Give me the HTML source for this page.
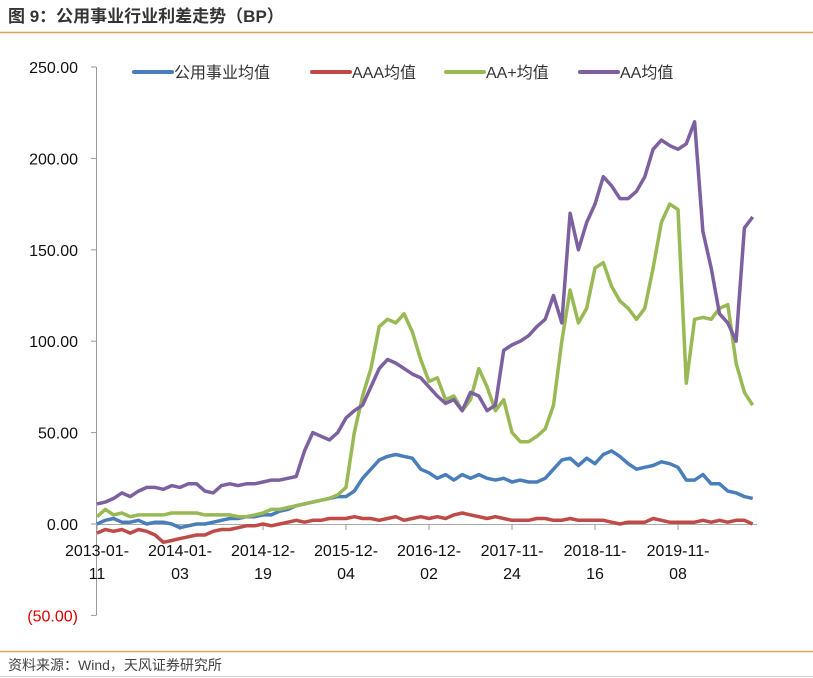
<!DOCTYPE html>
<html><head><meta charset="utf-8"><style>
body{margin:0;background:#fff;width:813px;height:678px;overflow:hidden;font-family:"Liberation Sans","Noto Sans CJK SC",sans-serif}
</style></head><body>
<svg width="813" height="678" style="position:absolute;left:0;top:0">
<text x="8" y="22" font-size="17" font-weight="bold" fill="#333" font-family="Liberation Sans,Noto Sans CJK SC,sans-serif">图 9：公用事业行业利差走势（BP）</text>
<line x1="0" y1="32.5" x2="813" y2="32.5" stroke="#d9a35a" stroke-width="1.5"/>
<line x1="0" y1="651.5" x2="813" y2="651.5" stroke="#d9a35a" stroke-width="1.5"/>
<line x1="0" y1="676.5" x2="813" y2="676.5" stroke="#ccc"/>
<text x="8" y="670" font-size="14" fill="#444" font-family="Liberation Sans,Noto Sans CJK SC,sans-serif">资料来源：Wind，天风证券研究所</text>
<g id="axes"></g>
<g id="series"></g>
<g id="legend"></g>
</svg>
<script>
const yTicks=[250,200,150,100,50,0,-50];
const yTickLabels=["250.00","200.00","150.00","100.00","50.00","0.00","(50.00)"];
const xTickIdx=[0,10,20,30,40,50,60,70];
const xTickLabels=[["2013-01-","11"],["2014-01-","03"],["2014-12-","19"],["2015-12-","04"],["2016-12-","02"],["2017-11-","24"],["2018-11-","16"],["2019-11-","08"]];
const seriesNames=["公用事业均值","AAA均值","AA+均值","AA均值"];
const utilVals=[0,2,3,1,1,2,0,1,1,0,-2,-1,0,0,1,2,3,3,4,4,5,5,7,8,10,11,12,13,14,15,15,18,25,30,35,37,38,37,36,30,28,25,27,24,27,25,27,25,24,25,23,24,23,23,25,30,35,36,32,36,33,38,40,37,33,30,31,32,34,33,31,24,24,27,22,22,18,17,15,14];
const aaaVals=[-5,-3,-4,-3,-5,-3,-4,-6,-10,-9,-8,-7,-6,-6,-4,-3,-3,-2,-1,-1,0,-1,0,1,2,1,2,2,3,3,3,4,3,3,2,3,4,2,3,4,3,4,3,5,6,5,4,3,4,3,2,2,2,3,3,2,2,3,2,2,2,2,1,0,1,1,1,3,2,1,1,1,1,2,1,2,1,2,2,0];
const aapVals=[4,8,5,6,4,5,5,5,5,6,6,6,6,5,5,5,5,4,4,5,6,8,8,9,10,11,12,13,14,16,20,50,70,85,108,112,110,115,105,90,78,80,68,70,62,68,85,75,62,68,50,45,45,48,52,65,100,128,110,118,140,143,130,122,118,112,118,140,165,175,172,77,112,113,112,118,120,88,72,65];
const aaVals=[11,12,14,17,15,18,20,20,19,21,20,22,22,18,17,21,22,21,22,22,23,24,24,25,26,40,50,48,46,50,58,62,65,75,85,90,88,85,82,80,75,70,66,68,62,72,70,62,65,95,98,100,103,108,112,125,110,170,150,165,175,190,185,178,178,182,190,205,210,207,205,208,220,160,140,115,110,100,162,168];
const colors=["#4a7ebb","#be4b48","#98b954","#7d60a0"];
const NS="http://www.w3.org/2000/svg";
const X=i=>97+8.3*i;
const Y=v=>524-v*(457/250);
function mk(tag,attrs,parent){const e=document.createElementNS(NS,tag);for(const k in attrs)e.setAttribute(k,attrs[k]);parent.appendChild(e);return e;}
const ax=document.getElementById('axes');
let yl=mk('line',{x1:96.5,y1:Y(250),x2:96.5,y2:Y(-50),stroke:'#999'},ax);


yTicks.forEach((v,k)=>{
 const t=mk('line',{x1:91,y1:Y(v),x2:96,y2:Y(v),stroke:'#999'},ax);
 
 
 const tx=mk('text',{x:78,y:Y(v)+6,'font-size':16,'text-anchor':'end',fill:v<0?'#d00':'#111'},ax);
 tx.textContent=yTickLabels[k];
 
 
});
let xl=mk('line',{x1:96,y1:Y(0)+0.5,x2:757,y2:Y(0)+0.5,stroke:'#aaa'},ax);


xTickIdx.forEach((ix,k)=>{
 const t=mk('line',{x1:X(ix),y1:Y(0),x2:X(ix),y2:Y(0)+6,stroke:'#999'},ax);
 
 
 xTickLabels[k].forEach((s,j)=>{
  const tx=mk('text',{x:X(ix),y:556+j*23,'font-size':16,'text-anchor':'middle',fill:'#111'},ax);
  tx.textContent=s;
  
  
 });
});
const sg=document.getElementById('series');
const allVals=[utilVals,aaaVals,aapVals,aaVals];
const snames=['series-utility','series-aaa','series-aa-plus','series-aa'];
allVals.forEach((vals,s)=>{
 const d=vals.map((v,i)=>(i?'L':'M')+X(i).toFixed(1)+','+Y(v).toFixed(1)).join('');
 const p=mk('path',{d:d,fill:'none',stroke:colors[s],'stroke-width':3.5,'stroke-linejoin':'round'},sg);
 
 
});
const lg=document.getElementById('legend');
const lx=[134,312,446,580];
seriesNames.forEach((n,s)=>{
 const l=mk('line',{x1:lx[s],y1:72,x2:lx[s]+38,y2:72,stroke:colors[s],'stroke-width':4,'stroke-linecap':'round'},lg);
 
 
 const t=mk('text',{x:lx[s]+40,y:78,'font-size':16,fill:'#333'},lg);
 t.textContent=n;
 
 
});
</script>
</body></html>
